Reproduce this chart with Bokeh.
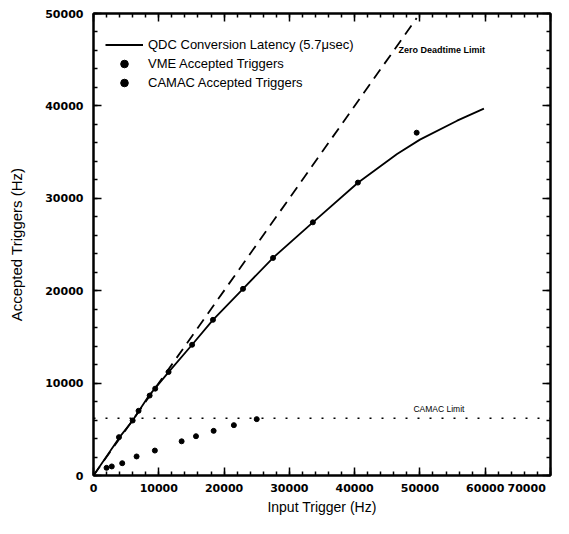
from bokeh.plotting import figure
from bokeh.models import Range1d, FixedTicker, LinearAxis, Legend, LegendItem, Label
from bokeh.embed import file_html
from bokeh.resources import INLINE

# ---- data ----
curve_x = [0, 4000, 6000, 8500, 11500, 15100, 18300, 22900, 27500, 33600, 40500, 46500, 50000, 55700, 59800]
curve_y = [0, 4150, 5950, 8650, 11180, 14150, 16850, 20200, 23560, 27400, 31680, 34800, 36350, 38400, 39700]

vme_x = [3900, 6000, 6900, 8600, 9450, 11500, 15100, 18300, 22900, 27500, 33600, 40500, 49500]
vme_y = [4150, 5950, 7000, 8650, 9400, 11200, 14150, 16850, 20200, 23550, 27400, 31700, 37100]

camac_x = [2000, 2800, 4400, 6600, 9400, 13500, 15700, 18400, 21500, 25000]
camac_y = [830, 980, 1330, 2060, 2700, 3700, 4250, 4830, 5450, 6100]

zero_dt_x = [0, 49500]
zero_dt_y = [0, 49500]

camac_limit_x = [0, 70000]
camac_limit_y = [6200, 6200]

x_ticks = [0, 10000, 20000, 30000, 40000, 50000, 60000, 70000]
y_ticks = [0, 10000, 20000, 30000, 40000, 50000]
x_minor = list(range(0, 70001, 2000))
y_minor = list(range(0, 50001, 2000))

FONT = "Liberation Sans"
TICKFONT = "DejaVu Sans"

p = figure(width=553, height=518,
           x_range=Range1d(0, 70000), y_range=Range1d(0, 50000),
           output_backend="svg", toolbar_location=None,
           min_border_left=93, min_border_right=3,
           min_border_top=13, min_border_bottom=43)

p.xgrid.grid_line_color = None
p.ygrid.grid_line_color = None
p.outline_line_color = "black"
p.outline_line_width = 2
p.background_fill_color = "white"
p.border_fill_color = "white"

# lines
r_zero = p.line(zero_dt_x, zero_dt_y, line_color="black", line_width=1.8, line_dash="11 7")
r_lim = p.line(camac_limit_x, camac_limit_y, line_color="black", line_width=1.5, line_dash="2 10")
r_curve = p.line(curve_x, curve_y, line_color="black", line_width=1.8)
r_vme = p.scatter(vme_x, vme_y, marker="circle", size=5, fill_color="black", line_color="black")
r_camac = p.scatter(camac_x, camac_y, marker="circle", size=5, fill_color="black", line_color="black")

# axes
xax = p.xaxis[0]
yax = p.yaxis[0]
xax.ticker = FixedTicker(ticks=x_ticks, minor_ticks=x_minor)
yax.ticker = FixedTicker(ticks=y_ticks, minor_ticks=y_minor)
xax.axis_label = "Input Trigger (Hz)"
yax.axis_label = "Accepted Triggers (Hz)"
# last label sits at the right edge: pad it slightly so it stays on the canvas
xax.major_label_overrides = {70000: "70000\u00a0\u00a0"}
for ax in (xax, yax):
    ax.axis_line_width = 2
    ax.major_tick_in = 8
    ax.major_tick_out = 0
    ax.minor_tick_in = 4
    ax.minor_tick_out = 0
    ax.major_tick_line_width = 1.5
    ax.minor_tick_line_width = 1.5
    ax.major_label_text_font = TICKFONT
    ax.major_label_text_font_size = "11px"
    ax.major_label_text_font_style = "bold"
    ax.major_label_text_color = "black"
    ax.axis_label_text_font = FONT
    ax.axis_label_text_font_style = "normal"
    ax.axis_label_text_color = "black"
xax.major_label_standoff = 6
xax.axis_label_standoff = 1
xax.axis_label_text_font_size = "14px"
yax.major_label_standoff = 10
yax.axis_label_standoff = 17
yax.axis_label_text_font_size = "15px"

# top & right tick-only axes
for side, ticks, minor in (("above", x_ticks, x_minor), ("right", y_ticks, y_minor)):
    ax = LinearAxis(ticker=FixedTicker(ticks=ticks, minor_ticks=minor))
    ax.major_label_overrides = {t: "" for t in ticks}
    ax.major_label_text_font_size = "0px"
    ax.major_label_standoff = 0
    ax.axis_line_width = 2
    ax.major_tick_in = 8
    ax.major_tick_out = 0
    ax.minor_tick_in = 4
    ax.minor_tick_out = 0
    ax.major_tick_line_width = 1.5
    ax.minor_tick_line_width = 1.5
    p.add_layout(ax, side)

# annotations
p.add_layout(Label(x=46700, y=46100, text="Zero Deadtime Limit", text_baseline="middle",
                   text_font=FONT, text_font_size="9px", text_font_style="bold",
                   text_color="black"))
p.add_layout(Label(x=49000, y=7150, text="CAMAC Limit", text_baseline="middle",
                   text_font=FONT, text_font_size="8.5px", text_color="black"))

legend = Legend(items=[
    LegendItem(label="QDC Conversion Latency (5.7\u03bcsec)", renderers=[r_curve]),
    LegendItem(label="VME Accepted Triggers", renderers=[r_vme]),
    LegendItem(label="CAMAC Accepted Triggers", renderers=[r_camac]),
], location=(10, 381))
legend.border_line_alpha = 0
legend.background_fill_alpha = 0
legend.padding = 2
legend.margin = 0
legend.spacing = 0
legend.glyph_width = 38
legend.glyph_height = 19
legend.label_height = 19
legend.label_standoff = 5
legend.label_text_font = FONT
legend.label_text_font_size = "13px"
legend.label_text_color = "black"
p.add_layout(legend)

open("out.html", "w").write(file_html(p, INLINE))
